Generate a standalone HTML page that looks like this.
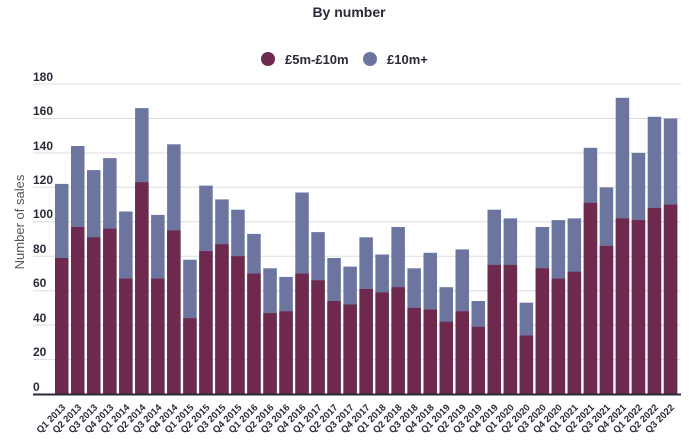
<!DOCTYPE html>
<html><head><meta charset="utf-8"><style>
html,body{margin:0;padding:0;background:#fff}
svg{display:block}
text{font-family:"Liberation Sans",sans-serif}
</style></head><body>
<svg width="689" height="447" viewBox="0 0 689 447" xmlns="http://www.w3.org/2000/svg">
<text x="349" y="17" text-anchor="middle" font-size="14" font-weight="bold" fill="#2a2a38">By number</text>
<circle cx="268" cy="59" r="7" fill="#6e2a4e"/>
<text x="285" y="64" font-size="13" font-weight="bold" fill="#2a2a38">£5m-£10m</text>
<circle cx="370" cy="59" r="7" fill="#6b75a0"/>
<text x="387" y="64" font-size="13" font-weight="bold" fill="#2a2a38">£10m+</text>
<g stroke="#dddddd" stroke-width="1">
<line x1="33" x2="681" y1="84" y2="84"/><line x1="33" x2="681" y1="118.5" y2="118.5"/><line x1="33" x2="681" y1="153" y2="153"/><line x1="33" x2="681" y1="187.3" y2="187.3"/><line x1="33" x2="681" y1="221.8" y2="221.8"/><line x1="33" x2="681" y1="256.2" y2="256.2"/><line x1="33" x2="681" y1="290.7" y2="290.7"/><line x1="33" x2="681" y1="325.1" y2="325.1"/><line x1="33" x2="681" y1="359.6" y2="359.6"/>
</g>
<g font-size="12" font-weight="bold" fill="#2a2a38">
<text x="33" y="81">180</text><text x="33" y="115">160</text><text x="33" y="150">140</text><text x="33" y="184">120</text><text x="33" y="218">100</text><text x="33" y="253">80</text><text x="33" y="287">60</text><text x="33" y="322">40</text><text x="33" y="356">20</text><text x="33" y="391">0</text>
</g>
<text transform="translate(24,222) rotate(-90)" text-anchor="middle" font-size="13" fill="#555">Number of sales</text>
<g id="bars">
<rect x="55" y="183.9" width="13.5" height="210.1" fill="#6b75a0"/><rect x="55" y="258" width="13.5" height="136" fill="#6e2a4e"/>
<rect x="71" y="146" width="13.5" height="248" fill="#6b75a0"/><rect x="71" y="227" width="13.5" height="167" fill="#6e2a4e"/>
<rect x="87" y="170.1" width="13.5" height="223.9" fill="#6b75a0"/><rect x="87" y="237.3" width="13.5" height="156.7" fill="#6e2a4e"/>
<rect x="103.1" y="158.1" width="13.5" height="235.9" fill="#6b75a0"/><rect x="103.1" y="228.7" width="13.5" height="165.3" fill="#6e2a4e"/>
<rect x="119.1" y="211.5" width="13.5" height="182.5" fill="#6b75a0"/><rect x="119.1" y="278.6" width="13.5" height="115.4" fill="#6e2a4e"/>
<rect x="135.1" y="108.1" width="13.5" height="285.9" fill="#6b75a0"/><rect x="135.1" y="182.2" width="13.5" height="211.8" fill="#6e2a4e"/>
<rect x="151.1" y="214.9" width="13.5" height="179.1" fill="#6b75a0"/><rect x="151.1" y="278.6" width="13.5" height="115.4" fill="#6e2a4e"/>
<rect x="167.1" y="144.3" width="13.5" height="249.7" fill="#6b75a0"/><rect x="167.1" y="230.4" width="13.5" height="163.6" fill="#6e2a4e"/>
<rect x="183.2" y="259.7" width="13.5" height="134.3" fill="#6b75a0"/><rect x="183.2" y="318.2" width="13.5" height="75.8" fill="#6e2a4e"/>
<rect x="199.2" y="185.6" width="13.5" height="208.4" fill="#6b75a0"/><rect x="199.2" y="251.1" width="13.5" height="142.9" fill="#6e2a4e"/>
<rect x="215.2" y="199.4" width="13.5" height="194.6" fill="#6b75a0"/><rect x="215.2" y="244.2" width="13.5" height="149.8" fill="#6e2a4e"/>
<rect x="231.2" y="209.7" width="13.5" height="184.3" fill="#6b75a0"/><rect x="231.2" y="256.2" width="13.5" height="137.8" fill="#6e2a4e"/>
<rect x="247.2" y="233.9" width="13.5" height="160.1" fill="#6b75a0"/><rect x="247.2" y="273.5" width="13.5" height="120.5" fill="#6e2a4e"/>
<rect x="263.3" y="268.3" width="13.5" height="125.7" fill="#6b75a0"/><rect x="263.3" y="313.1" width="13.5" height="80.9" fill="#6e2a4e"/>
<rect x="279.3" y="276.9" width="13.5" height="117.1" fill="#6b75a0"/><rect x="279.3" y="311.3" width="13.5" height="82.7" fill="#6e2a4e"/>
<rect x="295.3" y="192.5" width="13.5" height="201.5" fill="#6b75a0"/><rect x="295.3" y="273.5" width="13.5" height="120.5" fill="#6e2a4e"/>
<rect x="311.3" y="232.1" width="13.5" height="161.9" fill="#6b75a0"/><rect x="311.3" y="280.3" width="13.5" height="113.7" fill="#6e2a4e"/>
<rect x="327.3" y="258" width="13.5" height="136" fill="#6b75a0"/><rect x="327.3" y="301" width="13.5" height="93" fill="#6e2a4e"/>
<rect x="343.4" y="266.6" width="13.5" height="127.4" fill="#6b75a0"/><rect x="343.4" y="304.5" width="13.5" height="89.5" fill="#6e2a4e"/>
<rect x="359.4" y="237.3" width="13.5" height="156.7" fill="#6b75a0"/><rect x="359.4" y="289" width="13.5" height="105" fill="#6e2a4e"/>
<rect x="375.4" y="254.5" width="13.5" height="139.5" fill="#6b75a0"/><rect x="375.4" y="292.4" width="13.5" height="101.6" fill="#6e2a4e"/>
<rect x="391.4" y="227" width="13.5" height="167" fill="#6b75a0"/><rect x="391.4" y="287.2" width="13.5" height="106.8" fill="#6e2a4e"/>
<rect x="407.4" y="268.3" width="13.5" height="125.7" fill="#6b75a0"/><rect x="407.4" y="307.9" width="13.5" height="86.1" fill="#6e2a4e"/>
<rect x="423.5" y="252.8" width="13.5" height="141.2" fill="#6b75a0"/><rect x="423.5" y="309.6" width="13.5" height="84.4" fill="#6e2a4e"/>
<rect x="439.5" y="287.2" width="13.5" height="106.8" fill="#6b75a0"/><rect x="439.5" y="321.7" width="13.5" height="72.3" fill="#6e2a4e"/>
<rect x="455.5" y="249.4" width="13.5" height="144.6" fill="#6b75a0"/><rect x="455.5" y="311.3" width="13.5" height="82.7" fill="#6e2a4e"/>
<rect x="471.5" y="301" width="13.5" height="93" fill="#6b75a0"/><rect x="471.5" y="326.8" width="13.5" height="67.2" fill="#6e2a4e"/>
<rect x="487.5" y="209.7" width="13.5" height="184.3" fill="#6b75a0"/><rect x="487.5" y="264.9" width="13.5" height="129.1" fill="#6e2a4e"/>
<rect x="503.6" y="218.4" width="13.5" height="175.6" fill="#6b75a0"/><rect x="503.6" y="264.9" width="13.5" height="129.1" fill="#6e2a4e"/>
<rect x="519.6" y="302.7" width="13.5" height="91.3" fill="#6b75a0"/><rect x="519.6" y="335.5" width="13.5" height="58.5" fill="#6e2a4e"/>
<rect x="535.6" y="227" width="13.5" height="167" fill="#6b75a0"/><rect x="535.6" y="268.3" width="13.5" height="125.7" fill="#6e2a4e"/>
<rect x="551.6" y="220.1" width="13.5" height="173.9" fill="#6b75a0"/><rect x="551.6" y="278.6" width="13.5" height="115.4" fill="#6e2a4e"/>
<rect x="567.6" y="218.4" width="13.5" height="175.6" fill="#6b75a0"/><rect x="567.6" y="271.7" width="13.5" height="122.3" fill="#6e2a4e"/>
<rect x="583.7" y="147.8" width="13.5" height="246.2" fill="#6b75a0"/><rect x="583.7" y="202.9" width="13.5" height="191.1" fill="#6e2a4e"/>
<rect x="599.7" y="187.4" width="13.5" height="206.6" fill="#6b75a0"/><rect x="599.7" y="245.9" width="13.5" height="148.1" fill="#6e2a4e"/>
<rect x="615.7" y="97.8" width="13.5" height="296.2" fill="#6b75a0"/><rect x="615.7" y="218.4" width="13.5" height="175.6" fill="#6e2a4e"/>
<rect x="631.7" y="152.9" width="13.5" height="241.1" fill="#6b75a0"/><rect x="631.7" y="220.1" width="13.5" height="173.9" fill="#6e2a4e"/>
<rect x="647.7" y="116.8" width="13.5" height="277.2" fill="#6b75a0"/><rect x="647.7" y="208" width="13.5" height="186" fill="#6e2a4e"/>
<rect x="663.8" y="118.5" width="13.5" height="275.5" fill="#6b75a0"/><rect x="663.8" y="204.6" width="13.5" height="189.4" fill="#6e2a4e"/>
</g>
<line x1="33" x2="681" y1="394.5" y2="394.5" stroke="#2a2a38" stroke-width="2"/>
<g font-size="9.5" font-weight="bold" fill="#2a2a38" text-anchor="end">
<text transform="translate(66,408) rotate(-45)">Q1 2013</text>
<text transform="translate(82,408) rotate(-45)">Q2 2013</text>
<text transform="translate(98,408) rotate(-45)">Q3 2013</text>
<text transform="translate(114.1,408) rotate(-45)">Q4 2013</text>
<text transform="translate(130.1,408) rotate(-45)">Q1 2014</text>
<text transform="translate(146.1,408) rotate(-45)">Q2 2014</text>
<text transform="translate(162.1,408) rotate(-45)">Q3 2014</text>
<text transform="translate(178.1,408) rotate(-45)">Q4 2014</text>
<text transform="translate(194.2,408) rotate(-45)">Q1 2015</text>
<text transform="translate(210.2,408) rotate(-45)">Q2 2015</text>
<text transform="translate(226.2,408) rotate(-45)">Q3 2015</text>
<text transform="translate(242.2,408) rotate(-45)">Q4 2015</text>
<text transform="translate(258.2,408) rotate(-45)">Q1 2016</text>
<text transform="translate(274.3,408) rotate(-45)">Q2 2016</text>
<text transform="translate(290.3,408) rotate(-45)">Q3 2016</text>
<text transform="translate(306.3,408) rotate(-45)">Q4 2016</text>
<text transform="translate(322.3,408) rotate(-45)">Q1 2017</text>
<text transform="translate(338.3,408) rotate(-45)">Q2 2017</text>
<text transform="translate(354.4,408) rotate(-45)">Q3 2017</text>
<text transform="translate(370.4,408) rotate(-45)">Q4 2017</text>
<text transform="translate(386.4,408) rotate(-45)">Q1 2018</text>
<text transform="translate(402.4,408) rotate(-45)">Q2 2018</text>
<text transform="translate(418.4,408) rotate(-45)">Q3 2018</text>
<text transform="translate(434.5,408) rotate(-45)">Q4 2018</text>
<text transform="translate(450.5,408) rotate(-45)">Q1 2019</text>
<text transform="translate(466.5,408) rotate(-45)">Q2 2019</text>
<text transform="translate(482.5,408) rotate(-45)">Q3 2019</text>
<text transform="translate(498.5,408) rotate(-45)">Q4 2019</text>
<text transform="translate(514.6,408) rotate(-45)">Q1 2020</text>
<text transform="translate(530.6,408) rotate(-45)">Q2 2020</text>
<text transform="translate(546.6,408) rotate(-45)">Q3 2020</text>
<text transform="translate(562.6,408) rotate(-45)">Q4 2020</text>
<text transform="translate(578.6,408) rotate(-45)">Q1 2021</text>
<text transform="translate(594.7,408) rotate(-45)">Q2 2021</text>
<text transform="translate(610.7,408) rotate(-45)">Q3 2021</text>
<text transform="translate(626.7,408) rotate(-45)">Q4 2021</text>
<text transform="translate(642.7,408) rotate(-45)">Q1 2022</text>
<text transform="translate(658.7,408) rotate(-45)">Q2 2022</text>
<text transform="translate(674.8,408) rotate(-45)">Q3 2022</text>
</g>
</svg>
</body></html>
